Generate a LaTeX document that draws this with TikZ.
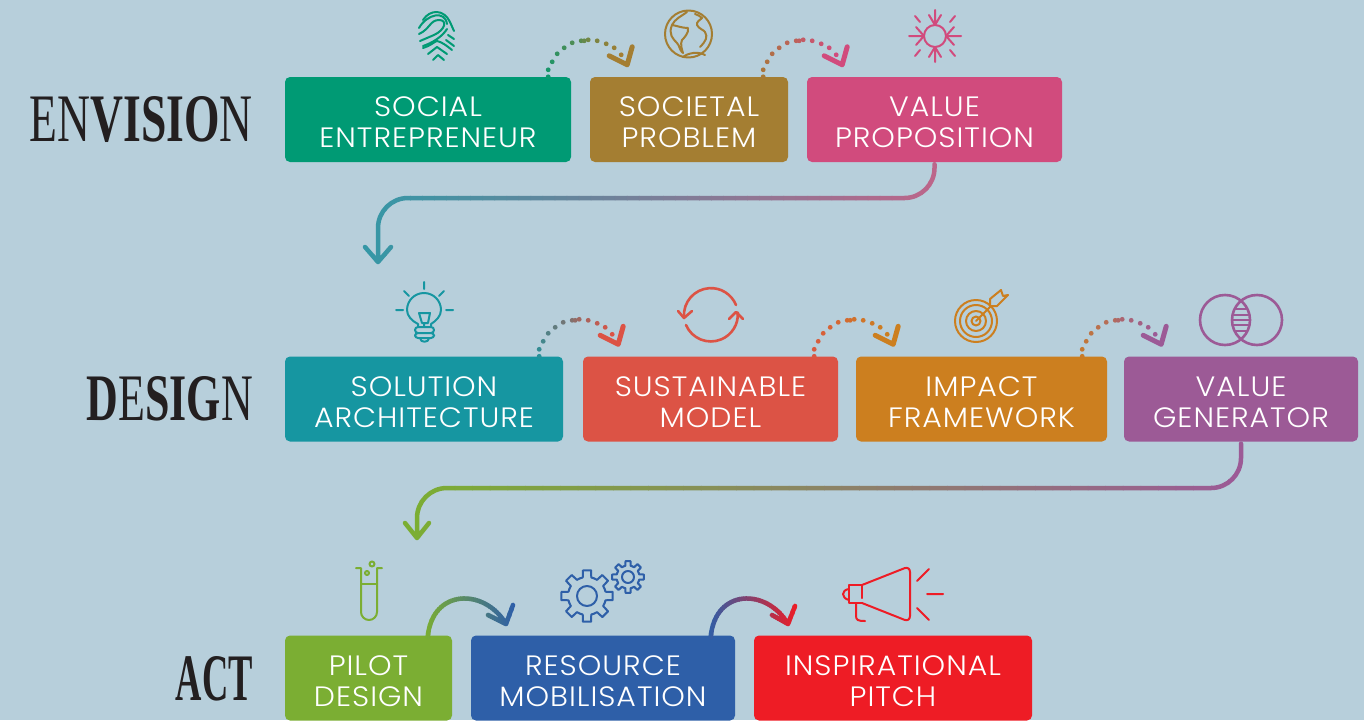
\documentclass[tikz,border=0pt]{standalone}
\usepackage{fontspec}
\setmainfont{Poppins Light}
\newfontfamily\boxfont[FakeStretch=1.07,LetterSpace=3.5]{Poppins Light}
\newfontfamily\titlefont{Liberation Serif}
\usetikzlibrary{calc}
\definecolor{bgblue}{HTML}{B7CFDB}
\definecolor{inkblack}{HTML}{231F20}
\definecolor{socialcol}{HTML}{009A74}
\definecolor{societalcol}{HTML}{A47E32}
\definecolor{valuecol}{HTML}{D14B7D}
\definecolor{solutioncol}{HTML}{1696A1}
\definecolor{sustaincol}{HTML}{DC5345}
\definecolor{impactcol}{HTML}{CC7F1F}
\definecolor{generatorcol}{HTML}{9C5A96}
\definecolor{pilotcol}{HTML}{7BAE33}
\definecolor{resourcecol}{HTML}{2E5FA8}
\definecolor{pitchcol}{HTML}{EE1C25}
\definecolor{tealline}{HTML}{3597A6}
\definecolor{pinkline}{HTML}{BC668A}
\tikzset{
  stagebox/.style={rectangle,rounded corners=5pt,inner sep=0pt,minimum height=85pt,
    text=white,align=center,font=\boxfont\fontsize{28}{31}\selectfont},
  titlelabel/.style={inner sep=0pt,anchor=east,text=inkblack,font=\titlefont},
  gradline/.style={line width=4.5pt,line join=round,line cap=round,rounded corners=30pt},
  headline/.style={line width=5pt,line join=round,line cap=round},
  iconline/.style={line width=2pt,line join=round,line cap=round},
}
\newcommand{\boxstrut}{\rule{0pt}{26pt}}
% strips of colour along x: xmin, xmax, left colour, right colour, path
\newcommand{\gradpath}[5]{%
  \foreach \k in {0,...,47}{%
    \pgfmathsetmacro{\mixpct}{100*\k/47}
    \pgfmathsetmacro{\stripl}{#1+(#2-#1)/48*\k}
    \pgfmathsetmacro{\stripr}{#1+(#2-#1)/48*(\k+1)+.6}
    \begin{scope}
      \clip (\stripl,0) rectangle (\stripr,720);
      \draw[gradline,color=#4!\mixpct!#3] #5;
    \end{scope}}}
% dots from a box to the next one
\newcommand{\dotarc}[3]{%
  \foreach \dx/\dy [count=\n] in {0/0,0/-7,4/-15,9/-23,16/-29,24/-34,33/-36,36/-36,40/-37,49/-36,58/-33,66/-29,73/-22}{%
    \pgfmathsetmacro{\mixpct}{100*\n/13}
    \fill[color=#3!\mixpct!#2] ($(#1)+(\dx,\dy)$) circle (2.4);}
  \draw[headline,color=#3] ($(#1)+(61,-21)$) -- ($(#1)+(79,-12)$) -- ($(#1)+(84,-30)$);}
\newcommand{\gearicon}[4]{% centre, hole, root and tip radius
  \begin{scope}[shift={(#1)}]
    \draw[iconline,resourcecol] (0,0) circle (#2);
    \foreach \a in {0,45,...,315}
      \draw[iconline,resourcecol] (\a-22.5:#3) -- (\a-13:#3) -- (\a-9:#4) -- (\a+9:#4) -- (\a+13:#3) -- (\a+22.5:#3);
  \end{scope}}
\begin{document}
\begin{tikzpicture}[x=1pt,y=-1pt]
  \fill[bgblue] (0,0) rectangle (1364,720);
  \useasboundingbox (0,0) rectangle (1364,720);

  % titles
  \node[titlelabel] (envision) at (253,119.5) {\resizebox{223pt}{45pt}{EN\textbf{VISIO}N}};
  \node[titlelabel] (design) at (253,399) {\resizebox{166pt}{44pt}{\textbf{D}E\textbf{SIG}N}};
  \node[titlelabel] (act) at (253,679) {\resizebox{77pt}{44pt}{\textbf{ACT}}};

  % boxes
  \node[stagebox,fill=socialcol,minimum width=286pt] (social) at (428,119.5) {\boxstrut SOCIAL\\ENTREPRENEUR};
  \node[stagebox,fill=societalcol,minimum width=198pt] (societal) at (689,119.5) {\boxstrut SOCIETAL\\PROBLEM};
  \node[stagebox,fill=valuecol,minimum width=255pt] (valueprop) at (934.5,119.5) {\boxstrut VALUE\\PROPOSITION};
  \node[stagebox,fill=solutioncol,minimum width=278pt] (solution) at (424,399) {\boxstrut SOLUTION\\ARCHITECTURE};
  \node[stagebox,fill=sustaincol,minimum width=255pt] (sustain) at (710.5,399) {\boxstrut SUSTAINABLE\\MODEL};
  \node[stagebox,fill=impactcol,minimum width=251pt] (impact) at (981.5,399) {\boxstrut IMPACT\\FRAMEWORK};
  \node[stagebox,fill=generatorcol,minimum width=234pt] (generator) at (1241,399) {\boxstrut VALUE\\GENERATOR};
  \node[stagebox,fill=pilotcol,minimum width=167pt] (pilot) at (368.5,678) {\boxstrut PILOT\\DESIGN};
  \node[stagebox,fill=resourcecol,minimum width=264pt] (resource) at (603,678) {\boxstrut RESOURCE\\MOBILISATION};
  \node[stagebox,fill=pitchcol,minimum width=278pt] (pitch) at (893,678) {\boxstrut INSPIRATIONAL\\PITCH};

  % long connectors
  \coordinate (bendA) at (378,198);
  \coordinate (designin) at (378,262);
  \coordinate (bendB) at (417,488);
  \coordinate (actin) at (417,538);
  \gradpath{362}{940}{tealline}{pinkline}{([yshift=-2pt]valueprop.south) |- (bendA) -- (designin) (365,247) [sharp corners] -- (designin) -- (391,247)}
  \gradpath{402}{1246}{pilotcol}{generatorcol}{([yshift=-2pt]generator.south) |- (bendB) -- (actin) (405,523) [sharp corners] -- (actin) -- (429,523)}

  % short connectors
  \coordinate (startA) at ($(social.north east)+(-23,0)$);
  \coordinate (startB) at ($(societal.north east)+(-25,0)$);
  \coordinate (startC) at ($(solution.north east)+(-24,0)$);
  \coordinate (startD) at ($(sustain.north east)+(-24,0)$);
  \coordinate (startE) at ($(impact.north east)+(-25,0)$);
  \dotarc{startA}{socialcol}{societalcol}
  \dotarc{startB}{societalcol}{valuecol}
  \dotarc{startC}{solutioncol}{sustaincol}
  \dotarc{startD}{sustaincol}{impactcol}
  \dotarc{startE}{impactcol}{generatorcol}
  \coordinate (startF) at ($(pilot.north east)+(-24.5,2)$);
  \coordinate (startG) at ($(resource.north east)+(-24.5,2)$);
  \coordinate (tipF) at (506,624);
  \coordinate (tipG) at (788,624);
  \gradpath{424}{515}{pilotcol}{resourcecol}{[sharp corners] (startF) .. controls (432,588) and (485,588) .. (tipF) (488,615) -- (tipF) -- (513,605)}
  \gradpath{707}{798}{resourcecol}{pitchcol}{[sharp corners] (startG) .. controls (715,588) and (767,588) .. (tipG) (772,615) -- (tipG) -- (795,606)}

  % fingerprint
  \begin{scope}[iconline,socialcol]
    \draw (423,20) .. controls (430,9) and (444,9) .. (450,22) -- (454,31);
    \draw (419,28) .. controls (427,14) and (445,10) .. (447,24);
    \draw (419,34) .. controls (430,29) and (430,20) .. (439,20) .. controls (448,20) and (445,30) .. (434,35) -- (420,41);
    \draw (423,46) .. controls (432,43) and (442,37) .. (447,29);
    \draw (448,35) -- (454,39) (446,40) -- (454,46);
    \draw (423,48) .. controls (430,46) and (434,42) .. (437,41) .. controls (442,42) and (447,46) .. (452,50);
    \draw (428,54) -- (437,47) -- (447,54) (433,60) -- (438,55) -- (444,60);
  \end{scope}

  % globe
  \begin{scope}[iconline,societalcol]
    \draw (688.5,34) circle (23.5);
    \draw (687,12) .. controls (680,17) and (675,19) .. (672,25) .. controls (678,26) and (682,28) .. (688,28) .. controls (689,33) and (684,38) .. (682,40) .. controls (680,44) and (682,50) .. (683,53) .. controls (679,50) and (680,46) .. (677,43) .. controls (673,39) and (668,34) .. (672,25);
    \draw (695,14) .. controls (698,15) and (700,16) .. (702,18) .. controls (700,20) and (696,22) .. (697,25) .. controls (699,29) and (704,30) .. (705,32) .. controls (708,37) and (706,41) .. (700,47);
    \draw (683,57) .. controls (688,53) and (698,51) .. (705,55);
  \end{scope}

  % sun
  \begin{scope}[iconline,valuecol]
    \draw (935,36) circle (11);
    \draw (935,10) -- (935,25) (929,15) -- (935,25) -- (941,15);
    \draw (935,62) -- (935,47) (929,57) -- (935,47) -- (941,57);
    \draw (909,36) -- (924,36) (916,27) -- (924,36) -- (916,45);
    \draw (961,36) -- (946,36) (954,27) -- (946,36) -- (954,45);
    \draw (915,16) -- (920,22) (955,16) -- (950,22) (915,56) -- (920,50) (955,56) -- (950,50);
  \end{scope}

  % bulb
  \begin{scope}[iconline,solutioncol]
    \draw (418,326) -- (418,324) .. controls (412,321) and (407,316) .. (407,310) arc (180:360:17) .. controls (441,316) and (436,321) .. (431,324) -- (431,326);
    \draw (419,313) -- (430,313) -- (428,323) -- (422,323) -- cycle (424,323) -- (424,327);
    \draw[rounded corners=3pt] (415,327) rectangle (434,333) (415,333) rectangle (434,338);
    \draw (420,338) .. controls (420,343) and (429,343) .. (429,338);
    \draw (424,282) -- (424,289) (404,291) -- (409,296) (444,291) -- (439,296) (396,310) -- (403,310) (446,310) -- (453,310);
  \end{scope}

  % cycle
  \begin{scope}[iconline,sustaincol,line width=2.6pt]
    \draw (684,317) arc (176:338:27);
    \draw (686,325) arc (157:-4:27);
    \draw (678,311) -- (684,318) -- (692,311);
    \draw (729,319) -- (736,312) -- (743,319);
  \end{scope}

  % target
  \begin{scope}[iconline,impactcol]
    \draw (976,321) circle (21) circle (16) circle (10) circle (4.5);
    \draw (976,321) -- (991,306);
    \draw (990,306) -- (990,299) -- (1001,290) -- (1003,296) -- (1008,295) -- (997,306) -- cycle;
  \end{scope}

  % venn
  \begin{scope}[iconline,generatorcol,line width=2.6pt]
    \draw (1225,320) circle (25) (1257,320) circle (25);
    \draw (1236,309) -- (1246,309) (1234,315) -- (1248,315) (1233,320) -- (1249,320) (1234,325) -- (1248,325) (1236,331) -- (1246,331);
  \end{scope}

  % tube
  \begin{scope}[iconline,pilotcol]
    \draw (356,568) -- (361,568) -- (361,612) arc (180:0:8) -- (377,568) -- (382,568);
    \draw (361,584) -- (377,584);
    \draw (372,564) circle (2.5) (367,573) circle (2);
  \end{scope}

  % gears
  \gearicon{587,596}{10}{19}{26}
  \gearicon{628,577}{6}{11.5}{16}

  % megaphone
  \begin{scope}[iconline,pitchcol]
    \draw[rounded corners=6pt] (862,585) -- (910,566) -- (910,622) -- (862,603);
    \draw (862,585) -- (849,585) -- (849,603) -- (862,603) (862,585) -- (862,598);
    \draw (849,589) .. controls (841,590) and (841,598) .. (849,600);
    \draw (856,603) -- (856,616) .. controls (856,620) and (858,621) .. (865,621);
    \draw (917,581) -- (929,569) (927,594) -- (943,594) (917,608) -- (929,620);
  \end{scope}
\end{tikzpicture}
\end{document}
